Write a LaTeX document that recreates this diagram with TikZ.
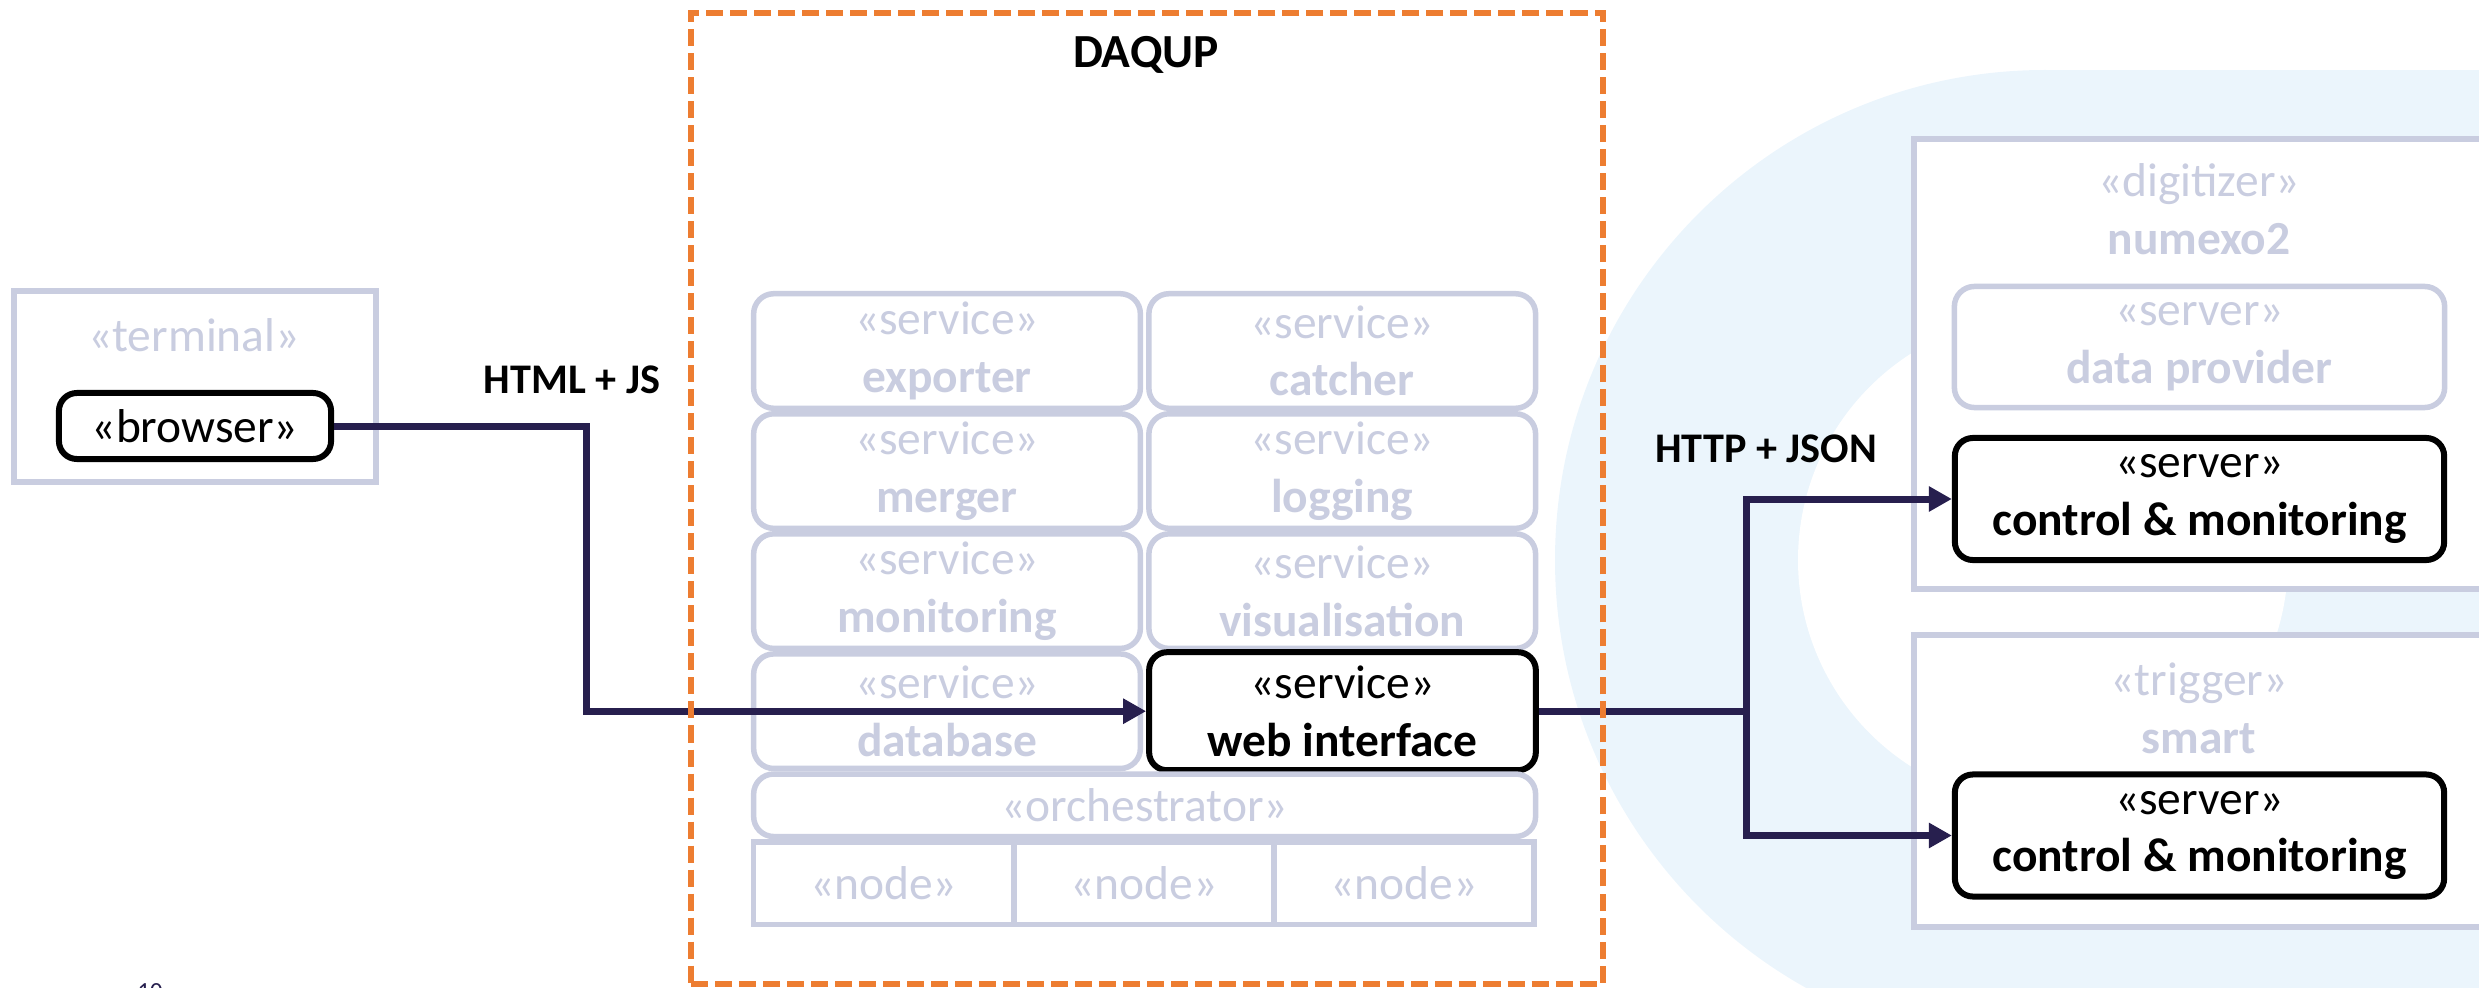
\documentclass[tikz,border=0pt]{standalone}
\usepackage{fontspec}
\setmainfont{Carlito}
\usetikzlibrary{arrows.meta,positioning}
\definecolor{daqOrange}{RGB}{237,125,49}
\definecolor{daqGrey}{RGB}{201,205,224}
\definecolor{daqNavy}{RGB}{39,31,78}
\definecolor{daqSky}{RGB}{235,245,252}

\begin{document}
\begin{tikzpicture}[x=0.01cm,y=-0.01cm,node distance=0pt,
  font=\fontsize{13.5}{16.4}\selectfont,
  every node/.style={inner sep=0pt,align=center},
  ghost/.style={draw=daqGrey,line width=0.055cm,fill=white,text=daqGrey},
  svc/.style={ghost,rounded corners=0.2cm,minimum width=3.865cm,minimum height=1.145cm},
  cell/.style={ghost,minimum width=2.6cm,minimum height=0.825cm},
  live/.style={draw=black,line width=0.06cm,rounded corners=0.18cm,fill=white,text=black},
  srv/.style={minimum width=4.89cm,minimum height=1.22cm},
  link/.style={draw=daqNavy,line width=0.07cm,-{Triangle[length=0.23cm,width=0.24cm]}},
  wire/.style={font=\fontsize{12}{14.4}\selectfont\bfseries}]
  \useasboundingbox (0,0) rectangle (2479,988);
  \clip (0,0) rectangle (2479,988);

  % backdrop ring
  \fill[daqSky] (2045,560) circle[radius=490];
  \fill[daqSky] (2045,70) rectangle (2600,1050);
  \fill[white] (2043,560) circle[radius=245];

  % terminal
  \node[ghost,minimum width=3.62cm,minimum height=1.91cm,anchor=north west] (term) at (11,288) {};
  \node[text=daqGrey] (termlbl) at (194,335) {«terminal»};
  \node[live,minimum width=2.72cm,minimum height=0.66cm] (brw) at (195,426) {«browser»};
  \node[wire] (htmljs) at (572,380) {HTML + JS};

  % services
  \node[font=\fontsize{13.5}{16.2}\selectfont\bfseries] (title) at (1146,55) {DAQUP};
  \node[svc] (exp) at (947,351) {«service»\\\textbf{exporter}};
  \node[svc,right=0.03cm of exp] (cat) {«service»\\\textbf{catcher}};
  \node[svc,below=of exp] (mer) {«service»\\\textbf{merger}};
  \node[svc,below=of cat] (log) {«service»\\\textbf{logging}};
  \node[svc,below=of mer] (mon) {«service»\\\textbf{monitoring}};
  \node[svc,below=of log] (vis) {«service»\\\textbf{visualisation}};
  \node[svc,below=of mon] (db) {«service»\\\textbf{database}};
  \node[svc,live,right=0.03cm of db,minimum height=1.18cm] (web) {«service»\\\textbf{web interface}};
  \node[ghost,rounded corners=0.2cm,minimum width=7.815cm,minimum height=0.625cm,anchor=north west] (orch) at (db.south west) {«orchestrator»};
  \node[cell,anchor=north west] (nd1) at (orch.south west) {«node»};
  \node[cell,right=-0.055cm of nd1] (nd2) {«node»};
  \node[cell,right=-0.055cm of nd2] (nd3) {«node»};

  % devices
  \node[ghost,minimum width=6.5cm,minimum height=4.5cm,anchor=north west] (dig) at (1911,136) {};
  \node[text=daqGrey] (diglbl) at (2199,209) {«digitizer»\\\textbf{numexo2}};
  \node[ghost,rounded corners=0.2cm,minimum width=4.9cm,minimum height=1.21cm] (prov) at (2199.5,347) {«server»\\\textbf{data provider}};
  \node[live,srv] (ctl1) at (2199.5,499) {«server»\\\textbf{control \& monitoring}};
  \node[ghost,minimum width=6.5cm,minimum height=2.92cm,anchor=north west] (trg) at (1911,632) {};
  \node[text=daqGrey] (trglbl) at (2199,708) {«trigger»\\\textbf{smart}};
  \node[live,srv] (ctl2) at (2199.5,835.5) {«server»\\\textbf{control \& monitoring}};
  \node[wire] (httpjson) at (1766,449) {HTTP + JSON};

  % connectors
  \coordinate (hop) at (586,0);
  \coordinate (fork) at (1746,0);
  \draw[link] (brw.east) -| (hop |- web.west) -- (web.west);
  \draw[draw=daqNavy,line width=0.07cm] (web.east) -- (fork |- web.east);
  \draw[link] (fork |- web.east) |- (ctl1.west);
  \draw[link] (fork |- web.east) |- (ctl2.west);

  \node[draw=daqOrange,line width=0.06cm,dash pattern=on 0.17cm off 0.07cm,minimum width=9.11cm,minimum height=9.70cm,anchor=north west] (daqup) at (688,10) {};
  \node[text=daqNavy,font=\fontsize{7}{8}\selectfont,anchor=north] (pageno) at (150,983) {10};
\end{tikzpicture}
\end{document}
